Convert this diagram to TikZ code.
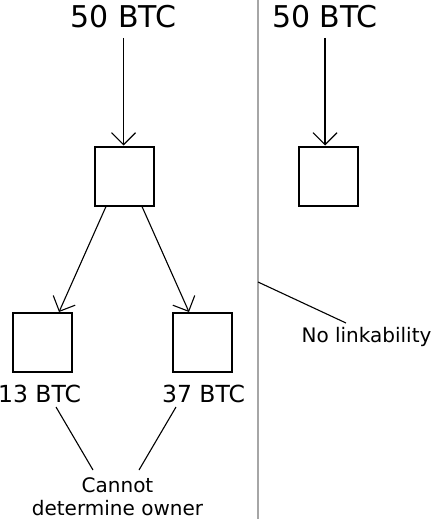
\documentclass[tikz,border=0pt]{standalone}
\usepackage{fontspec}
\setmainfont{DejaVu Sans}
\usetikzlibrary{positioning,arrows.meta}

\begin{document}
\begin{tikzpicture}[x=1pt,y=-1pt,>={Straight Barb[length=12pt,width=24pt]},line width=1.1pt]
  \tikzstyle{coin}=[rectangle,draw,line width=2pt,minimum size=59pt,inner sep=0pt]
  \tikzstyle{big}=[font=\fontsize{30}{36}\selectfont,inner sep=0pt,anchor=base]
  \tikzstyle{amount}=[font=\fontsize{23.5}{28}\selectfont,inner sep=0pt,anchor=base]
  \tikzstyle{note}=[font=\fontsize{20}{23}\selectfont,inner sep=0pt,align=center]

  \useasboundingbox (0,0) rectangle (432,519);

  % separator
  \coordinate (sep) at (258,0);
  \coordinate (sepend) at (258,519);
  \coordinate (hook) at (258,282);
  \draw[line width=2pt,black!35] (sep) -- (sepend);

  % left: one input split in two
  \node[big] (in1) at (123.5,28) {50 BTC};
  \node[coin] (tx1) at (124.5,176) {};
  \node[coin] (out1) at (42,342.5) {};
  \node[coin] (out2) at (202,342.5) {};
  \node[amount] (lbl1) at (39.5,402) {13 BTC};
  \node[amount] (lbl2) at (203.5,402) {37 BTC};
  \node[note,anchor=north] (owner) at (117.5,477) {Cannot\\determine owner};

  \draw[->] ([yshift=-9pt]in1.south) -- (in1.south |- tx1.north);
  \draw[->] ([xshift=-18.5pt]tx1.south) -- ([xshift=17pt]out1.north);
  \draw[->] ([xshift=17.5pt]tx1.south) -- ([xshift=-13pt]out2.north);
  \draw ([xshift=16.5pt,yshift=-5pt]lbl1.base) -- ([xshift=-24.5pt,yshift=7pt]owner.north);
  \draw ([xshift=-27.5pt,yshift=-5pt]lbl2.base) -- ([xshift=21.5pt,yshift=7pt]owner.north);

  % right: kept whole
  \node[big] (in2) at (325,28) {50 BTC};
  \node[coin] (tx2) at (328,176) {};
  \node[note,anchor=base] (nolink) at (366.5,342) {No linkability};

  \draw[->] ([yshift=-9pt]in2.south) -- (in2.south |- tx2.north);
  \draw (hook) -- ([xshift=-20.5pt,yshift=19pt]nolink.base);
\end{tikzpicture}
\end{document}
